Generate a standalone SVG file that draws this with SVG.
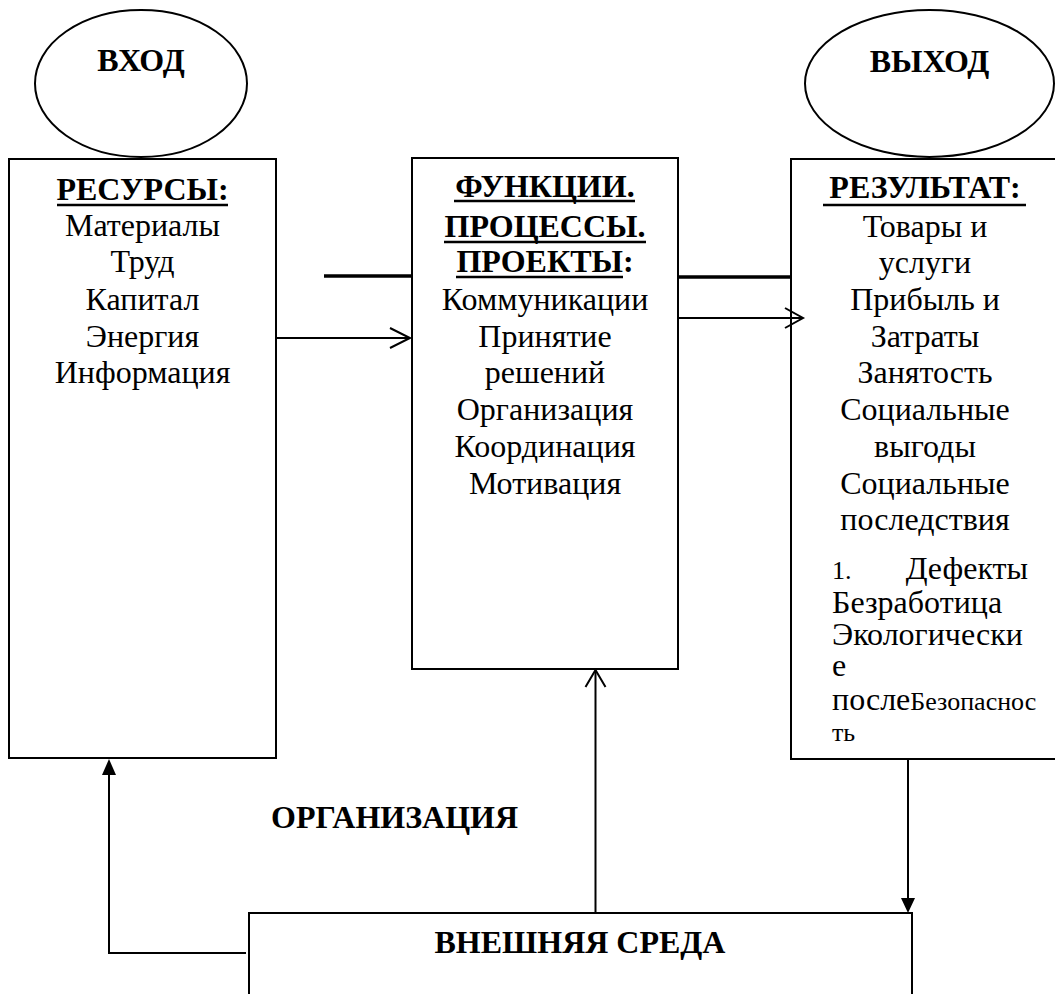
<svg xmlns="http://www.w3.org/2000/svg" width="1055" height="994" viewBox="0 0 1055 994">
<style>
.box{fill:#fff;stroke:#000;stroke-width:2}
.t{font-family:"Liberation Serif","Times New Roman",serif;font-size:32px;fill:#000;text-anchor:middle}
.b{font-weight:bold}
.s{font-size:26px}
.l{text-anchor:start}
.ul{stroke:#000;stroke-width:2.5}
.c{fill:none;stroke:#000;stroke-width:2}
.thick{fill:none;stroke:#000;stroke-width:3.5}
.tri{fill:#000}
</style>
<rect width="1055" height="994" fill="#fff"/>
<g id="vhod">
<ellipse class="box" cx="141" cy="83.5" rx="106" ry="73.5"/>
<text class="t b" x="141" y="71">ВХОД</text>
</g>
<g id="vyhod">
<ellipse class="box" cx="929.5" cy="83.5" rx="124.5" ry="73.5"/>
<text class="t b" x="929.5" y="72">ВЫХОД</text>
</g>
<g id="resursy">
<rect class="box" x="9" y="159" width="267" height="599"/>
<text class="t b" x="142.5" y="200">РЕСУРСЫ:</text>
<line class="ul" x1="57" y1="205" x2="228" y2="205"/>
<text class="t" x="142.5" y="236">Материалы</text>
<text class="t" x="142.5" y="272">Труд</text>
<text class="t" x="142.5" y="310">Капитал</text>
<text class="t" x="142.5" y="347">Энергия</text>
<text class="t" x="142.5" y="383">Информация</text>
</g>
<g id="funkcii">
<rect class="box" x="412" y="158" width="266" height="511"/>
<text class="t b" x="545" y="197">ФУНКЦИИ.</text>
<line class="ul" x1="454" y1="201" x2="635" y2="201"/>
<text class="t b" x="545" y="237">ПРОЦЕССЫ.</text>
<line class="ul" x1="444" y1="242" x2="646" y2="242"/>
<text class="t b" x="545" y="272">ПРОЕКТЫ:</text>
<line class="ul" x1="456" y1="277" x2="623" y2="277"/>
<text class="t" x="545" y="310">Коммуникации</text>
<text class="t" x="545" y="347">Принятие</text>
<text class="t" x="545" y="383">решений</text>
<text class="t" x="545" y="420">Организация</text>
<text class="t" x="545" y="457">Координация</text>
<text class="t" x="545" y="494">Мотивация</text>
</g>
<g id="rezultat">
<rect class="box" x="791" y="159" width="270" height="600"/>
<text class="t b" x="925" y="198">РЕЗУЛЬТАТ:</text>
<line class="ul" x1="823" y1="205" x2="1026" y2="205"/>
<text class="t" x="925" y="237">Товары и</text>
<text class="t" x="925" y="273">услуги</text>
<text class="t" x="925" y="310">Прибыль и</text>
<text class="t" x="925" y="347">Затраты</text>
<text class="t" x="925" y="383">Занятость</text>
<text class="t" x="925" y="420">Социальные</text>
<text class="t" x="925" y="457">выгоды</text>
<text class="t" x="925" y="494">Социальные</text>
<text class="t" x="925" y="530">последствия</text>
<text class="t s l" x="832" y="579">1.</text>
<text class="t" x="1028" y="579" style="text-anchor:end">Дефекты</text>
<text class="t l" x="832" y="613">Безработица</text>
<text class="t l" x="832" y="645">Экологически</text>
<text class="t l" x="832" y="676">е</text>
<text class="t l" x="832" y="710">после<tspan class="s">Безопаснос</tspan></text>
<text class="t s l" x="832" y="741">ть</text>
</g>
<g id="organizaciya">
<text class="t b l" x="271" y="828">ОРГАНИЗАЦИЯ</text>
</g>
<g id="vneshnyaya">
<rect class="box" x="249" y="913" width="663" height="100"/>
<text class="t b" x="580" y="953">ВНЕШНЯЯ СРЕДА</text>
</g>
<g id="connectors">
<line class="thick" x1="324" y1="276" x2="412" y2="276"/>
<line class="c" x1="276" y1="338" x2="409" y2="338"/>
<polyline class="c" points="390,328 410,338 390,348" stroke-width="2.5"/>
<line class="thick" x1="678" y1="277" x2="791" y2="277"/>
<line class="c" x1="678" y1="318" x2="802" y2="318"/>
<polyline class="c" points="785,308 803,318 785,328" stroke-width="2.5"/>
<line class="c" x1="595.5" y1="913" x2="595.5" y2="671"/>
<polyline class="c" points="585.5,687 595.5,670 605.5,687" stroke-width="2.5"/>
<line class="c" x1="908" y1="759" x2="908" y2="900"/>
<polygon class="tri" points="901,898 915,898 908,913"/>
<polyline class="c" points="246,953 109,953 109,773"/>
<polygon class="tri" points="102,775 116,775 109,759"/>
</g>
</svg>
